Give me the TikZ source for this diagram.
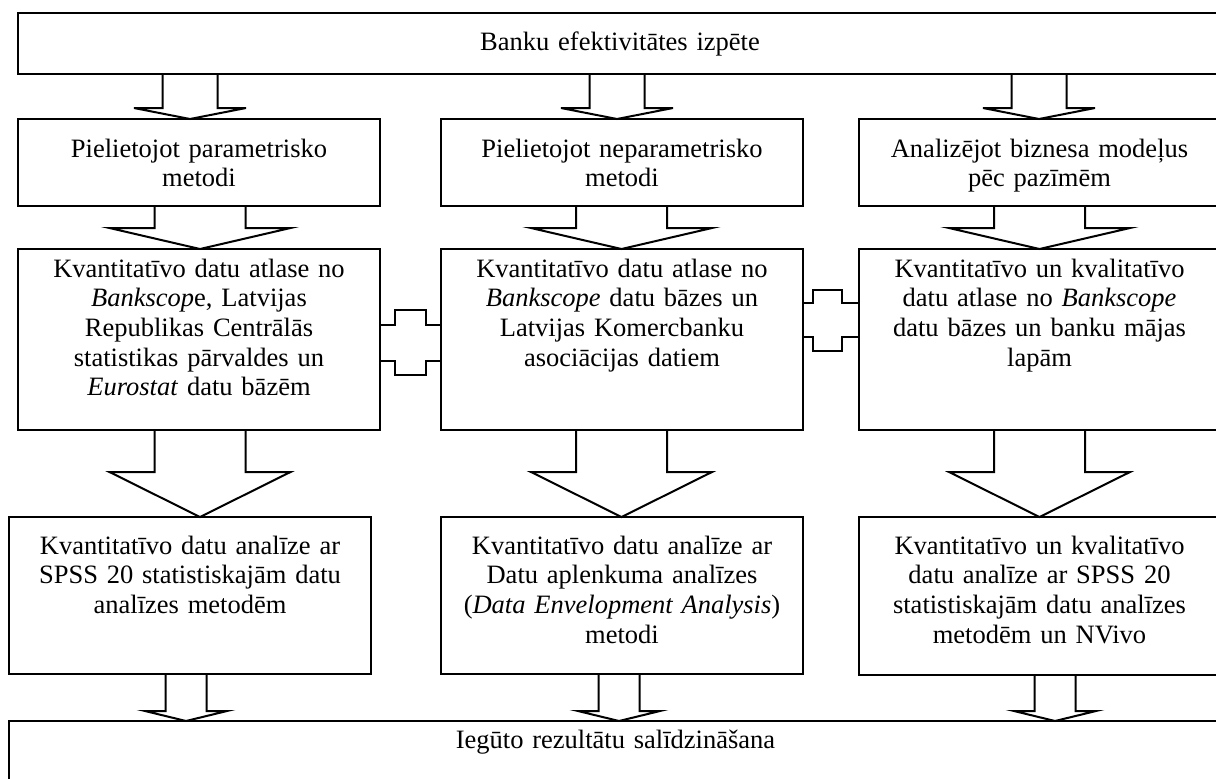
\documentclass[tikz,border=0pt]{standalone}
\usepackage{fontspec}
\setmainfont{Liberation Serif}
\usetikzlibrary{calc,fit}

% block arrow: source, target, axis x, shaft half width, head half width, head length
\newcommand{\blockarrow}[6]{%
  \coordinate (ba) at (#3,0);
  \draw[barrow] ($(ba |- #1.south)+(-#4,0)$) -- ($(ba |- #2.north)+(-#4,-#6)$)
    -- ($(ba |- #2.north)+(-#5,-#6)$) -- (ba |- #2.north)
    -- ($(ba |- #2.north)+(#5,-#6)$) -- ($(ba |- #2.north)+(#4,-#6)$)
    -- ($(ba |- #1.south)+(#4,0)$);
}
% cross-shaped link between two neighbouring boxes
\newcommand{\crosslink}[8]{%
  \draw[link] (#1.east |- 0,#3) -- (#7,#3) -- (#7,#5) -- (#8,#5) -- (#8,#3) -- (#2.west |- 0,#3);
  \draw[link] (#1.east |- 0,#4) -- (#7,#4) -- (#7,#6) -- (#8,#6) -- (#8,#4) -- (#2.west |- 0,#4);
}

\begin{document}
\begin{tikzpicture}[x=0.5pt,y=-0.5pt,
  box/.style={draw,line width=1pt,inner sep=0pt,outer sep=0pt},
  txt/.style={align=center,text width=200pt,inner sep=0pt,anchor=base,
    font=\fontsize{13.25pt}{14.85pt}\selectfont},
  barrow/.style={draw,line width=1pt,line join=miter},
  link/.style={draw,line width=1pt}]
\useasboundingbox (0,0) rectangle (1216,778);
\clip (0,0) rectangle (1216,778);

% boxes
\node[box,fit={(18,13) (1222,74)}] (top) {};
\node[box,fit={(18,119) (380,206)}] (L1) {};
\node[box,fit={(441,119) (803,206)}] (M1) {};
\node[box,fit={(859,119) (1220,206)}] (R1) {};
\node[box,fit={(18,249) (380,430)}] (L2) {};
\node[box,fit={(441,249) (803,430)}] (M2) {};
\node[box,fit={(859,249) (1220,430)}] (R2) {};
\node[box,fit={(9,517) (371,674)}] (L3) {};
\node[box,fit={(441,517) (803,674)}] (M3) {};
\node[box,fit={(859,517) (1220,675)}] (R3) {};
\node[box,fit={(9,721) (1222,810)}] (bot) {};

% texts
\node[txt] (topt) at ($(top.north)+(0,37)$) {Banku efektivitātes izpēte};
\node[txt] (L1t) at ($(L1.north)+(0,38)$) {Pielietojot parametrisko\\metodi};
\node[txt] (M1t) at ($(M1.north)+(0,38)$) {Pielietojot neparametrisko\\metodi};
\node[txt] (R1t) at ($(R1.north)+(0,38)$) {Analizējot biznesa modeļus\\pēc pazīmēm};
\node[txt] (L2t) at ($(L2.north)+(0,28)$) {Kvantitatīvo datu atlase no\\\textit{Bankscop}e, Latvijas\\Republikas Centrālās\\statistikas pārvaldes un\\\textit{Eurostat} datu bāzēm};
\node[txt] (M2t) at ($(M2.north)+(0,28)$) {Kvantitatīvo datu atlase no\\\textit{Bankscope} datu bāzes un\\Latvijas Komercbanku\\asociācijas datiem};
\node[txt] (R2t) at ($(R2.north)+(0,28)$) {Kvantitatīvo un kvalitatīvo\\datu atlase no \textit{Bankscope}\\datu bāzes un banku mājas\\lapām};
\node[txt] (L3t) at ($(L3.north)+(0,37)$) {Kvantitatīvo datu analīze ar\\SPSS 20 statistiskajām datu\\analīzes metodēm};
\node[txt] (M3t) at ($(M3.north)+(0,37)$) {Kvantitatīvo datu analīze ar\\Datu aplenkuma analīzes\\(\textit{Data Envelopment Analysis})\\metodi};
\node[txt] (R3t) at ($(R3.north)+(0,37)$) {Kvantitatīvo un kvalitatīvo\\datu analīze ar SPSS 20\\statistiskajām datu analīzes\\metodēm un NVivo};
\node[txt] (bott) at ($(bot.north)+(0,27)$) {Iegūto rezultātu salīdzināšana};

% block arrows
\blockarrow{top}{L1}{190}{27.5}{56}{11}
\blockarrow{top}{M1}{617}{27.5}{56}{11}
\blockarrow{top}{R1}{1039}{27.5}{56}{11}
\blockarrow{L1}{L2}{200}{45.5}{90.5}{21}
\blockarrow{M1}{M2}{621.5}{45.5}{90.5}{21}
\blockarrow{R1}{R2}{1039.5}{45.5}{90.5}{21}
\blockarrow{L2}{L3}{200}{45.5}{90.5}{45}
\blockarrow{M2}{M3}{621.5}{45.5}{90.5}{45}
\blockarrow{R2}{R3}{1039.5}{45.5}{90.5}{45}
\blockarrow{L3}{bot}{186}{20.5}{41}{10}
\blockarrow{M3}{bot}{619}{20.5}{41}{10}
\blockarrow{R3}{bot}{1055}{20.5}{41}{10}

% cross links between the middle-row boxes
\crosslink{L2}{M2}{325}{361}{310}{375}{395}{426}
\crosslink{M2}{R2}{303}{337}{290}{351}{813}{842}
\end{tikzpicture}
\end{document}
